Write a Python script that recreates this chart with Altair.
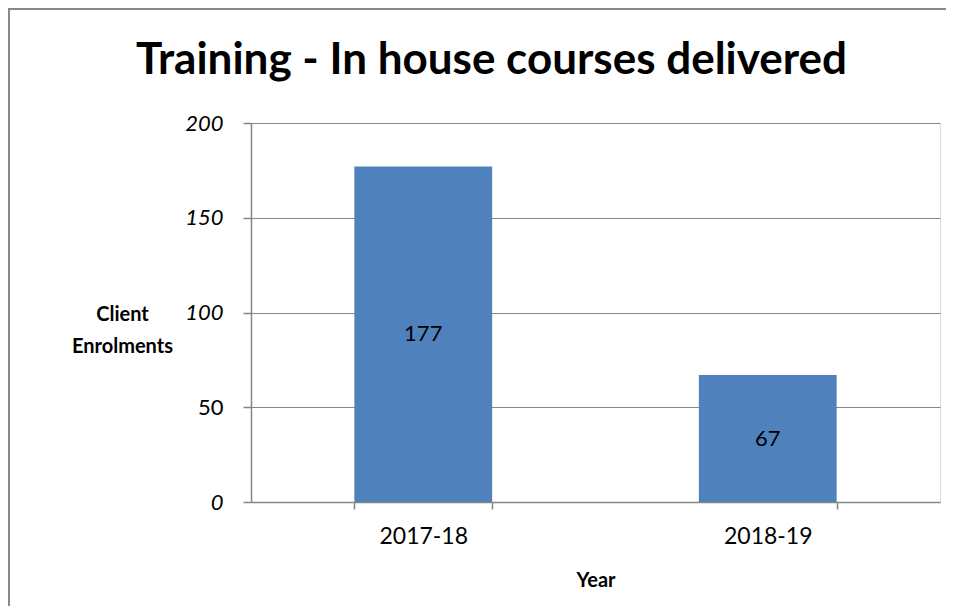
import altair as alt
import pandas as pd

years = ["2017-18", "2018-19"]
enrolments = [177, 67]

df = pd.DataFrame({"Year": years, "Enrolments": enrolments})

W, H = 689, 379
FONT = "Lato"

x_enc = alt.X(
    "Year:N",
    sort=years,
    scale=alt.Scale(paddingInner=0.6, paddingOuter=0.3),
    axis=alt.Axis(
        title="Year",
        titleFont=FONT, titleFontSize=20, titleFontWeight="bold", titleColor="#000",
        titlePadding=22,
        labelFont=FONT, labelFontSize=23, labelColor="#000", labelAngle=0,
        labelPadding=16,
        tickBand="extent", tickSize=7, tickColor="#868686", tickWidth=1.5,
        domainColor="#868686", domainWidth=1.5,
    ),
)

y_axis = alt.Axis(
    title=["Client", "Enrolments"],
    titleFont=FONT, titleFontSize=20, titleFontWeight="bold", titleColor="#000",
    titleAngle=0, titleAlign="center", titleBaseline="middle",
    titleX=-129, titleY=191, titleLineHeight=32,
    values=[0, 50, 100, 150, 200],
    labelFont=FONT, labelFontSize=22, labelColor="#000",
    labelFontStyle={"condition": {"test": "datum.value === 50", "value": "normal"}, "value": "italic"},
    labelPadding=20,
    tickSize=8, tickColor="#868686", tickWidth=1.5,
    domainColor="#868686", domainWidth=1.5,
    grid=True, gridColor="#868686", gridWidth=1.2,
)

bars = alt.Chart(df).mark_bar(color="#4F81BD").encode(
    x=x_enc,
    y=alt.Y("Enrolments:Q", scale=alt.Scale(domain=[0, 200], nice=False), axis=y_axis),
)

labels = alt.Chart(df).transform_calculate(mid="datum.Enrolments / 2").mark_text(
    font=FONT, fontSize=22, color="#000", baseline="middle", align="center"
).encode(
    x=alt.X("Year:N", sort=years),
    y=alt.Y("mid:Q"),
    text=alt.Text("Enrolments:Q"),
)

frame = alt.Chart(alt.Data(values=[{}])).mark_rect(
    fill=None, stroke="#888888", strokeWidth=2
).encode(
    x=alt.value(-242), x2=alt.value(W + 100),
    y=alt.value(-114), y2=alt.value(H + 300),
)

chart = alt.layer(frame, bars, labels).properties(
    width=W,
    height=H,
    title=alt.TitleParams(
        "Training - In house courses delivered",
        font=FONT, fontSize=44, fontWeight="bold", color="#000",
        anchor="middle", frame="group", offset=-75, dx=-104,
    ),
    autosize=alt.AutoSizeParams(type="none"),
    padding={"left": 243, "top": 115, "right": 6, "bottom": 104},
).configure_view(stroke=None).configure(background="white")

chart.save("out.html", embed_options={"renderer": "svg", "actions": False})
